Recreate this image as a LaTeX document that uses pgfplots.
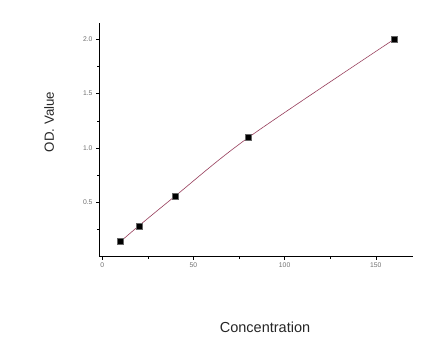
\documentclass[border=0pt]{standalone}
\usepackage{pgfplots}
\pgfplotsset{compat=1.18}
\usepackage{fontspec}
\setmainfont{Liberation Sans}
\definecolor{tickgray}{RGB}{110,110,110}
\definecolor{curve}{RGB}{150,60,90}
\begin{document}
\begin{tikzpicture}[x=1pt,y=1pt]
\useasboundingbox (0,0) rectangle (438,356);
\begin{axis}[
  at={(99pt,99.3pt)}, anchor=south west,
  scale only axis, width=314pt, height=233.7pt,
  xmin=-1.8, xmax=170.4, ymin=0.0, ymax=2.15,
  axis lines*=left,
  axis line style={black, line width=0.6pt},
  xtick={0,50,100,150}, ytick={0.5,1.0,1.5,2.0},
  minor xtick={25,75,125}, minor ytick={0.25,0.75,1.25,1.75},
  tick align=outside,
  major tick length=3pt, minor tick length=2pt,
  tick style={black, line width=0.5pt},
  ticklabel style={font=\fontsize{6.8}{7}\selectfont, text=tickgray},
  /pgf/number format/assume math mode=true,
  yticklabel style={/pgf/number format/.cd, fixed, fixed zerofill, precision=1},
  xticklabel style={/pgf/number format/.cd, fixed, precision=0},
  clip=false,
]
\addplot[curve, line width=0.6pt, smooth, tension=0.5,
  mark=square*, mark size=3pt,
  mark options={fill=black, draw=black!60, line width=0.4pt}]
  coordinates {(10,0.14) (20,0.283) (40,0.558) (80,1.095) (160,2.0)};
\end{axis}
\node[font=\fontsize{14.5}{16}\selectfont, text=black!85] at (265,29) {Concentration};
\node[font=\fontsize{13.3}{15}\selectfont, text=black!85, rotate=90] at (49,234) {OD. Value};
\end{tikzpicture}
\end{document}
